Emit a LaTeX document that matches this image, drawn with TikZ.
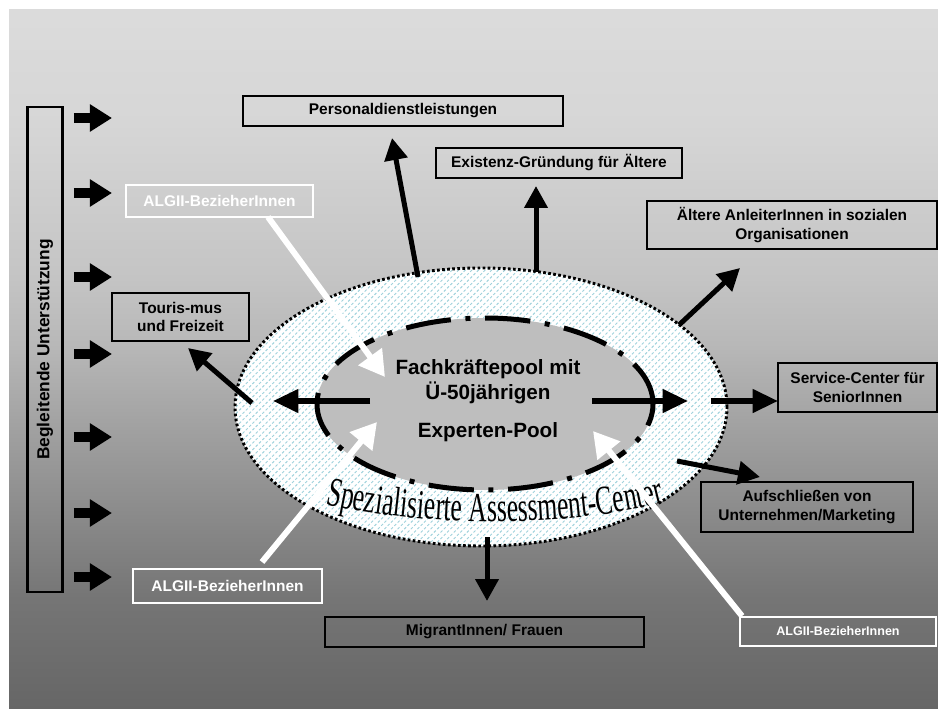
\documentclass[tikz,border=0pt]{standalone}
\usepackage{fontspec}
\setmainfont{Liberation Sans}
\newfontfamily\wordart[FakeStretch=0.62]{Liberation Serif}
\usetikzlibrary{arrows.meta,shapes.geometric,patterns.meta,decorations.text}
\definecolor{hatch}{RGB}{160,210,220}
\definecolor{innerg}{RGB}{190,190,190}
\pgfdeclareverticalshading{bgshade}{100bp}{color(0bp)=(black!60); color(25bp)=(black!60); color(33bp)=(black!54); color(38bp)=(black!47); color(45bp)=(black!37); color(51bp)=(black!28); color(56bp)=(black!23); color(67bp)=(black!16); color(75bp)=(black!14); color(100bp)=(black!14)}
\begin{document}
\begin{tikzpicture}[x=0.75pt,y=-0.75pt,
  font=\bfseries\fontsize{11.6}{13.7}\selectfont,
  box/.style={draw=black, line width=1pt, inner sep=0pt, align=center},
  wbox/.style={draw=white, line width=2.2pt, text=white, inner sep=0pt, align=center},
  bw/.style={minimum width=#1*0.75pt},
  bh/.style={minimum height=#1*0.75pt},
  blk/.style={line width=3.75pt, -{Triangle[length=16.5pt,width=17pt]}},
  blkbig/.style={line width=4pt, -{Triangle[length=19pt,width=17pt]}},
  wht/.style={draw=white, line width=4.5pt, -{Triangle[length=19pt,width=21pt]}},
  side/.style={line width=7.5pt, -{Triangle[length=16.5pt,width=19.5pt]}}]
\useasboundingbox (0,0) rectangle (938,709);
\fill[white] (0,0) rectangle (938,709);
\shade[shading=bgshade] (9,10) rectangle (938,709);

% boxes
\node[box,bw=320,bh=30] (pers) at (403,111) {Personaldienstleistungen};
\node[box,bw=246,bh=30] (exist) at (559,163) {Existenz-Gründung für Ältere};
\node[box,bw=290,bh=48] (aelt) at (792,225) {Ältere AnleiterInnen in sozialen\\Organisationen};
\node[box,bw=137,bh=48] (tour) at (180.5,317) {Touris-mus\\und Freizeit};
\node[box,bw=159,bh=49] (serv) at (857.5,387.5) {Service-Center für\\SeniorInnen};
\node[box,bw=212,bh=50] (aufs) at (807,507) {Aufschließen von\\Unternehmen/Marketing};
\node[box,bw=319,bh=30] (migr) at (484.5,632) {MigrantInnen/ Frauen};
\node[wbox,bw=187,bh=32] (algtl) at (219.5,201) {ALGII-BezieherInnen};
\node[wbox,bw=189,bh=34] (algbl) at (227.5,586) {ALGII-BezieherInnen};
\node[wbox,bw=196,bh=29,font=\bfseries\fontsize{9.4}{11}\selectfont] (algbr) at (838,631.5) {ALGII-BezieherInnen};

% left column
\node[box,line width=2.2pt,bw=35,bh=485,font=\bfseries\fontsize{13}{15}\selectfont] (beg) at (45,349.5) {\rotatebox{90}{Begleitende Unterstützung}};
\foreach \yy in {118,193,277,354,437,513,577}
  \draw[side, shorten <=7.5pt] (beg.east |- 0,\yy) -- ++(48,0);

% ellipses
\node[ellipse, inner sep=0pt, minimum width=369pt, minimum height=208.5pt,
  preaction={fill=white},
  pattern={Lines[angle=45,distance=3.5pt,line width=0.7pt]}, pattern color=hatch,
  draw=black, line width=2.2pt, dash pattern=on 2pt off 1.8pt] (outer) at (481,407) {};
\node[ellipse, inner sep=0pt, minimum width=252pt, minimum height=129pt,
  fill=innerg, draw=black, line width=3.75pt,
  dash pattern=on 34pt off 11pt on 3.75pt off 11pt] (inner) at (485,404) {};
\node[align=center, font=\bfseries\fontsize{15.5}{18.75}\selectfont] (pool) at (488,401)
  {Fachkräftepool mit\\Ü-50jährigen\\[9.75pt]Experten-Pool};

% word art
\path[decorate, decoration={text along path, text align=center,
  text={|\wordart\mdseries\fontsize{31}{31}\selectfont|Spezialisierte Assessment-Center}}]
  (300,497) .. controls (400,530) and (590,530) .. (690,495);

% black connectors
\coordinate (p1s) at (418,277); \coordinate (p1t) at (392,138);
\coordinate (e1s) at (536,272); \coordinate (e1t) at (536,186);
\coordinate (a1s) at (679,325); \coordinate (a1t) at (740,268);
\coordinate (s1s) at (711,401); \coordinate (s1t) at (778,401);
\coordinate (u1s) at (677,461); \coordinate (u1t) at (760,477);
\coordinate (m1s) at (487,537); \coordinate (m1t) at (487,601);
\coordinate (t1s) at (252,403); \coordinate (t1t) at (188,348);
\coordinate (ils) at (370,401); \coordinate (ilt) at (273,401);
\coordinate (irs) at (592,401); \coordinate (irt) at (688,401);
\draw[blk] (p1s) -- (p1t);
\draw[blk] (e1s) -- (e1t);
\draw[blk] (a1s) -- (a1t);
\draw[blkbig] (s1s) -- (s1t);
\draw[blk] (u1s) -- (u1t);
\draw[blk] (m1s) -- (m1t);
\draw[blk] (t1s) -- (t1t);
\draw[blkbig] (ils) -- (ilt);
\draw[blkbig] (irs) -- (irt);

% white connectors
\coordinate (w1s) at (268,217); \coordinate (w1t) at (385,377);
\coordinate (w2s) at (262,562); \coordinate (w2t) at (377,422);
\coordinate (w3s) at (742,616); \coordinate (w3t) at (593,431);
\draw[wht] (w1s) -- (w1t);
\draw[wht] (w2s) -- (w2t);
\draw[wht] (w3s) -- (w3t);
\end{tikzpicture}
\end{document}
